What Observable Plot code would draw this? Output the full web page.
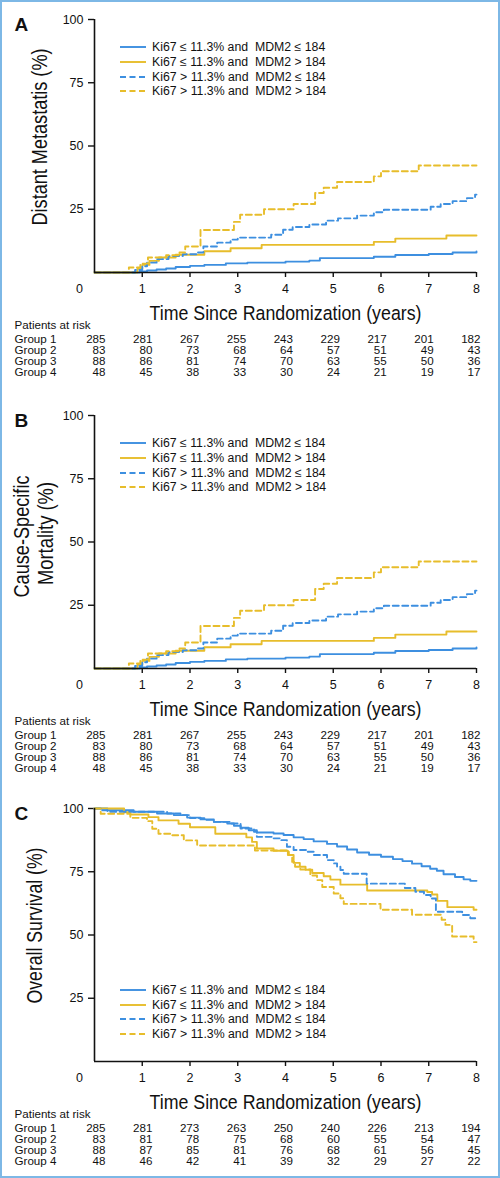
<!DOCTYPE html>
<html><head><meta charset="utf-8">
<script src="https://cdn.jsdelivr.net/npm/d3@7"></script>
<script src="https://cdn.jsdelivr.net/npm/@observablehq/plot@0.6"></script>
<style>
body{margin:0;background:#fff;}
#fig{position:relative;width:500px;height:1178px;overflow:hidden;font-family:"Liberation Sans",Arial,sans-serif;background:#fff;}
#border{position:absolute;left:0;top:0;width:500px;height:1178px;box-sizing:border-box;border:2px solid #7db8e6;pointer-events:none;}
.panel{position:absolute;left:0;width:500px;}
.panel svg{display:block;}
.legend{position:absolute;left:120px;font-size:12.3px;color:#111;}
.legend .row{display:flex;align-items:center;height:14.6px;white-space:pre;}
.legend svg{margin-right:6px;}
</style>
</head><body>
<div id="fig"><div id="border"></div></div>
<script>
// ---------- data ----------
const groups = ["Group 1", "Group 2", "Group 3", "Group 4"];
const legendLabels = [
  "Ki67 \u2264 11.3% and  MDM2 \u2264 184",
  "Ki67 \u2264 11.3% and  MDM2 > 184",
  "Ki67 > 11.3% and  MDM2 \u2264 184",
  "Ki67 > 11.3% and  MDM2 > 184"
];
const groupColors = ["#3d8fe0", "#e7bd2b", "#3d8fe0", "#e7bd2b"];
const groupDashed = [false, false, true, true];
const xTicks = [1, 2, 3, 4, 5, 6, 7, 8];
const yTicks = [25, 50, 75, 100];
const riskTimes = [0, 1, 2, 3, 4, 5, 6, 7, 8];
const xTitle = "Time Since Randomization (years)";

// Panel A / B : cumulative incidence (%)
const dmT1 = [0, 0.95, 1.1, 1.3, 1.5, 1.7, 2.0, 2.3, 2.75, 3.2, 4.0, 4.5, 4.72, 5.85, 6.3, 7.0, 7.5, 8];
const dmV1 = [0, 0.4, 0.8, 1.2, 1.6, 2.2, 2.6, 3.0, 3.6, 3.9, 4.3, 4.7, 5.7, 6.2, 6.9, 7.3, 7.9, 8.3];
const dmT2 = [0, 0.9, 1.0, 1.15, 1.35, 1.7, 2.3, 2.85, 3.5, 5.85, 6.3, 7.37, 8];
const dmV2 = [0, 1.5, 3.0, 4.6, 5.9, 7.0, 8.4, 9.6, 10.9, 12.1, 13.4, 14.6, 14.6];
const dmT3 = [0, 0.85, 1.0, 1.1, 1.3, 1.55, 1.85, 2.15, 2.28, 2.57, 2.85, 3.0, 3.7, 3.95, 4.15, 4.5, 4.85, 5.1, 5.5, 5.85, 6.06, 7.04, 7.25, 7.5, 7.8, 7.97, 8];
const dmV3 = [0, 1.0, 2.5, 3.9, 5.3, 6.5, 7.2, 7.9, 10.3, 11.8, 13.0, 13.8, 14.9, 16.9, 18.0, 19.0, 20.5, 21.4, 22.5, 23.8, 24.8, 26.0, 27.1, 28.2, 29.4, 30.8, 30.8];
const dmT4 = [0, 0.72, 0.96, 1.12, 1.5, 1.78, 1.9, 2.22, 2.92, 3.05, 3.55, 4.17, 4.62, 4.8, 5.08, 5.85, 6.0, 6.79, 8];
const dmV4 = [0, 2.0, 3.5, 5.9, 6.8, 7.9, 10.3, 16.8, 20.0, 22.8, 25.0, 27.1, 31.4, 33.5, 35.8, 38.0, 40.0, 42.3, 42.3];

// Panel C : overall survival (%)
const osT1 = [0, 0.27, 0.82, 1.31, 1.66, 1.94, 2.22, 2.5, 2.78, 2.92, 3.06, 3.23, 3.4, 3.75, 3.96, 4.17, 4.38, 4.59, 4.87, 5.08, 5.29, 5.5, 5.75, 6.0, 6.25, 6.45, 6.65, 6.85, 7.03, 7.17, 7.31, 7.55, 7.73, 7.87, 8];
const osV1 = [100, 99.3, 98.7, 98.0, 97.4, 96.4, 95.7, 94.7, 94.1, 93.2, 92.4, 91.4, 90.5, 90.1, 89.5, 88.6, 87.9, 87.0, 86.0, 85.0, 83.8, 82.6, 81.7, 80.9, 80.0, 79.2, 78.2, 77.2, 76.2, 75.4, 74.0, 72.9, 72.0, 71.4, 71.4];
const osT2 = [0, 0.62, 0.75, 1.13, 1.34, 1.76, 2.0, 2.53, 3.18, 3.3, 3.4, 3.75, 4.05, 4.17, 4.3, 4.42, 4.56, 4.8, 4.94, 5.15, 5.71, 6.97, 7.07, 7.18, 7.39, 7.94, 8];
const osV2 = [100, 98.5, 97.6, 96.6, 95.3, 94.0, 92.6, 90.0, 88.6, 86.8, 84.2, 83.3, 81.6, 78.5, 77.0, 75.8, 74.5, 73.2, 71.9, 69.9, 67.6, 67.0, 66.0, 63.5, 61.0, 60.0, 60.0];
const osT3 = [0, 0.13, 0.27, 1.52, 1.8, 2.0, 2.3, 2.5, 2.85, 3.06, 3.34, 3.4, 3.75, 3.9, 4.03, 4.17, 4.45, 4.59, 4.87, 5.01, 5.08, 5.15, 5.22, 5.7, 6.5, 6.72, 6.9, 7.04, 7.15, 7.7, 7.87, 8];
const osV3 = [100, 99.3, 98.7, 98.0, 97.4, 96.2, 95.5, 94.7, 94.1, 92.1, 90.8, 88.8, 88.2, 87.5, 84.9, 83.6, 82.9, 81.6, 79.6, 78.3, 77.0, 75.7, 74.2, 70.3, 68.6, 67.1, 65.8, 64.4, 59.2, 57.9, 56.6, 56.6];
const osT4 = [0, 0.13, 0.75, 1.1, 1.21, 1.34, 1.63, 1.87, 2.15, 3.36, 4.07, 4.14, 4.2, 4.31, 4.52, 4.66, 4.77, 5.01, 5.15, 5.22, 5.99, 6.65, 7.27, 7.35, 7.49, 7.94, 8];
const osV4 = [100, 97.9, 96.3, 95.0, 92.0, 90.0, 89.4, 87.4, 85.4, 83.4, 81.6, 78.9, 77.0, 75.9, 73.5, 71.7, 69.0, 66.4, 64.5, 62.3, 60.0, 58.0, 56.0, 54.0, 49.4, 47.2, 47.2];

// Patients at risk
const riskA1 = [285, 281, 267, 255, 243, 229, 217, 201, 182];
const riskA2 = [83, 80, 73, 68, 64, 57, 51, 49, 43];
const riskA3 = [88, 86, 81, 74, 70, 63, 55, 50, 36];
const riskA4 = [48, 45, 38, 33, 30, 24, 21, 19, 17];
const riskC1 = [285, 281, 273, 263, 250, 240, 226, 213, 194];
const riskC2 = [83, 81, 78, 75, 68, 60, 55, 54, 47];
const riskC3 = [88, 87, 85, 81, 76, 68, 61, 56, 45];
const riskC4 = [48, 46, 42, 41, 39, 32, 29, 27, 22];

// ---------- drawing ----------
const FONT = '"Liberation Sans", Arial, sans-serif';

// y-axis title lines: [text, dx, dy, rendered length]
const panels = [
  {letter: "A", top: 0, ylabels: [["Distant Metastatis (%)", -54, -9, 177]],
   curves: [[dmT1, dmV1], [dmT2, dmV2], [dmT3, dmV3], [dmT4, dmV4]],
   risk: [riskA1, riskA2, riskA3, riskA4], legendTop: 40.2},
  {letter: "B", top: 396, ylabels: [["Cause-Specific", -72, -5.5, 122], ["Mortality (%)", -48, -8.5, 103]],
   curves: [[dmT1, dmV1], [dmT2, dmV2], [dmT3, dmV3], [dmT4, dmV4]],
   risk: [riskA1, riskA2, riskA3, riskA4], legendTop: 40.2},
  {letter: "C", top: 789, ylabels: [["Overall Survival (%)", -59, -9.5, 156]],
   curves: [[osT1, osV1], [osT2, osV2], [osT3, osV3], [osT4, osV4]],
   risk: [riskC1, riskC2, riskC3, riskC4], legendTop: 193.7}
];

const fig = document.getElementById("fig");

function condense(svg, str, len) {
  d3.select(svg).selectAll("text").filter(function () { return this.textContent === str; })
    .attr("textLength", len).attr("lengthAdjust", "spacingAndGlyphs");
}

panels.forEach(p => {
  const div = document.createElement("div");
  div.className = "panel";
  div.style.top = p.top + "px";

  const lineMarks = p.curves.map(([T, V], i) => {
    const rows = T.map((t, k) => ({t, v: V[k]}));
    return Plot.line(rows, {x: "t", y: "v", curve: "step-after", stroke: groupColors[i], strokeWidth: 1.9,
      strokeDasharray: groupDashed[i] ? "6,3.5" : null});
  });

  const ylabelMarks = p.ylabels.map(([txt, dx, dy]) =>
    Plot.text([txt], {text: d => d, frameAnchor: "left", textAnchor: "middle", lineAnchor: "middle",
      rotate: -90, dx, dy, fontSize: 21.5}));

  const chart = Plot.plot({
    width: 500, height: 318,
    marginTop: 19, marginBottom: 46, marginLeft: 94, marginRight: 24,
    style: {fontFamily: FONT, fontSize: "12.5px", color: "#111", background: "transparent", overflow: "visible"},
    x: {domain: [0, 8]},
    y: {domain: [0, 100]},
    marks: [
      Plot.axisY(yTicks, {tickSize: 6, tickPadding: 5, label: null, strokeWidth: 1.4}),
      Plot.axisX(xTicks, {tickSize: 5, tickPadding: 6.5, label: null, strokeWidth: 1.4}),
      Plot.text(["0"], {x: 0, text: d => d, frameAnchor: "bottom", dx: -15, dy: 11.5, lineAnchor: "top"}),
      ...lineMarks,
      Plot.ruleX([0], {stroke: "#111", strokeWidth: 1.6}),
      Plot.ruleY([0], {stroke: "#111", strokeWidth: 1.6}),
      ...ylabelMarks,
      Plot.text([xTitle], {text: d => d, frameAnchor: "bottom", textAnchor: "middle", lineAnchor: "middle", dy: 41, fontSize: 20.5}),
      Plot.text([p.letter], {text: d => d, frameAnchor: "top-left", dx: -80, dy: 11.5, lineAnchor: "bottom",
        textAnchor: "start", fontWeight: "bold", fontSize: 19})
    ]
  });
  condense(chart, xTitle, 272);
  p.ylabels.forEach(([txt, , , len]) => condense(chart, txt, len));
  div.appendChild(chart);

  const riskRows = [];
  p.risk.forEach((arr, gi) => arr.forEach((n, k) => riskRows.push({g: groups[gi], t: riskTimes[k], n})));

  const table = Plot.plot({
    width: 500, height: 62,
    marginTop: 20.5, marginBottom: 8.5, marginLeft: 105, marginRight: 20,
    style: {fontFamily: FONT, fontSize: "11.6px", color: "#111", background: "transparent", overflow: "visible"},
    x: {domain: [0, 8], axis: null},
    y: {domain: groups, type: "point", padding: 0, axis: null},
    marks: [
      Plot.text(riskRows, {x: "t", y: "g", text: "n", textAnchor: "end"}),
      Plot.text(groups, {y: d => d, text: d => d, frameAnchor: "left", dx: -91, textAnchor: "start", lineAnchor: "middle"}),
      Plot.text(["Patients at risk"], {text: d => d, frameAnchor: "top-left", dx: -91, dy: -13.5,
        textAnchor: "start", lineAnchor: "middle"})
    ]
  });
  div.appendChild(table);

  const leg = document.createElement("div");
  leg.className = "legend";
  leg.style.top = p.legendTop + "px";
  legendLabels.forEach((lab, i) => {
    const row = document.createElement("div");
    row.className = "row";
    const dash = groupDashed[i] ? 'stroke-dasharray="6,3.5"' : "";
    row.innerHTML = `<svg width="26" height="4"><line x1="0" y1="2" x2="26" y2="2" stroke="${groupColors[i]}" stroke-width="1.9" ${dash}/></svg><span>${lab}</span>`;
    leg.appendChild(row);
  });
  div.appendChild(leg);

  fig.appendChild(div);
});
fig.appendChild(document.getElementById("border"));
</script>
</body></html>
